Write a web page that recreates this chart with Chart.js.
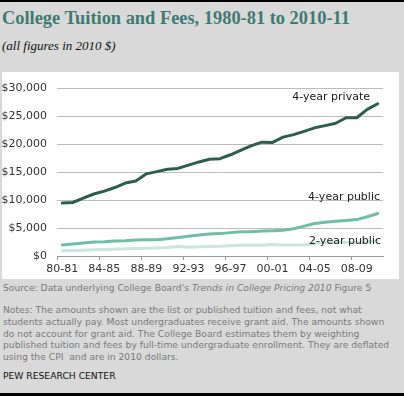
<!DOCTYPE html>
<html>
<head>
<meta charset="utf-8">
<script src="https://cdn.jsdelivr.net/npm/chart.js@4"></script>
<style>
  html, body { margin: 0; padding: 0; }
  body { width: 404px; height: 396px; background: #d9d9d9; position: relative; overflow: hidden; }
  #topline { position: absolute; left: 0; top: 0; width: 404px; height: 2px; background: #000; }
  #bottomline { position: absolute; left: 0; top: 393px; width: 404px; height: 3px; background: #000; }
  #title { position: absolute; left: 2px; top: 8px; font: bold 18.4px "Liberation Serif", serif; color: #3d7b73; white-space: nowrap; }
  #subtitle { position: absolute; left: 2px; top: 38px; font: italic 13px "Liberation Serif", serif; color: #111; white-space: nowrap; }
  #panel { position: absolute; left: 2px; top: 72px; width: 397px; height: 207px; background: #fff; }
  #chart { position: absolute; left: 0; top: 72px; }
  .note { position: absolute; left: 3px; font: 9.2px "DejaVu Sans", sans-serif; color: #7a7a7a; white-space: nowrap; line-height: 11.8px; }
  #source { top: 282px; }
  #notes { top: 304px; }
  #pew { top: 370px; color: #111; }
</style>
</head>
<body>
<div id="topline"></div>
<div id="title">College Tuition and Fees, 1980-81 to 2010-11</div>
<div id="subtitle">(all figures in 2010 $)</div>
<div id="panel"></div>
<canvas id="chart" width="404" height="207"></canvas>
<div class="note" id="source">Source: Data underlying College Board's <i>Trends in College Pricing 2010</i> Figure 5</div>
<div class="note" id="notes">Notes: The amounts shown are the list or published tuition and fees, not what<br>students actually pay. Most undergraduates receive grant aid. The amounts shown<br>do not account for grant aid. The College Board estimates them by weighting<br>published tuition and fees by full-time undergraduate enrollment. They are deflated<br>using the CPI&nbsp; and are in 2010 dollars.</div>
<div class="note" id="pew">PEW RESEARCH CENTER</div>
<div id="bottomline"></div>
<script>
// school years 1980-81 .. 2010-11
var years = ['80-81', '81-82', '82-83', '83-84', '84-85', '85-86', '86-87', '87-88',
  '88-89', '89-90', '90-91', '91-92', '92-93', '93-94', '94-95', '95-96', '96-97',
  '97-98', '98-99', '99-00', '00-01', '01-02', '02-03', '03-04', '04-05', '05-06',
  '06-07', '07-08', '08-09', '09-10', '10-11'];

// average published tuition and fees, 2010 dollars
var private4 = [9490, 9590, 10360, 11110, 11630, 12270, 13080, 13430, 14720, 15120,
  15560, 15700, 16280, 16860, 17330, 17440, 18140, 18960, 19770, 20400,
  20350, 21300, 21750, 22330, 22970, 23370, 23790, 24770, 24770, 26280, 27290];
var public4 = [1990, 2160, 2340, 2510, 2560, 2680, 2740, 2860, 2910, 2910,
  3100, 3320, 3550, 3780, 3960, 4010, 4190, 4360, 4360, 4480,
  4540, 4620, 4880, 5350, 5820, 6050, 6230, 6350, 6520, 7040, 7610];
var public2 = [950, 980, 1050, 1110, 1170, 1220, 1290, 1340, 1400, 1460,
  1520, 1720, 1560, 1640, 1690, 1740, 1820, 1920, 1990, 1940,
  2040, 1980, 1960, 1990, 2300, 2410, 2440, 2450, 2420, 2560, 2710];

var yTicks = [0, 5000, 10000, 15000, 20000, 25000, 30000];

// series name labels, placed at a value on the y scale
var seriesLabels = [
  { text: '4-year private', value: 28500, inset: 13 },
  { text: '4-year public', value: 10500, inset: 3 },
  { text: '2-year public', value: 2600, inset: 2 }
];

var labelPlugin = {
  id: 'seriesLabels',
  afterDatasetsDraw: function(chart) {
    var ctx = chart.ctx;
    var y = chart.scales.y;
    ctx.save();
    ctx.font = '11px "DejaVu Sans", sans-serif';
    ctx.fillStyle = '#222';
    ctx.textAlign = 'right';
    ctx.textBaseline = 'middle';
    seriesLabels.forEach(function(l) {
      ctx.fillText(l.text, chart.chartArea.right - l.inset, y.getPixelForValue(l.value));
    });
    ctx.restore();
  }
};

var tickFont = { family: 'DejaVu Sans', size: 11 };

var chart = new Chart(document.getElementById('chart'), {
  type: 'line',
  data: {
    labels: years,
    datasets: [
      { data: public2, borderColor: '#c9e7dd', borderWidth: 3 },
      { data: public4, borderColor: '#6fbea7', borderWidth: 3 },
      { data: private4, borderColor: '#2b5e4b', borderWidth: 3 }
    ]
  },
  options: {
    responsive: false,
    animation: false,
    layout: { padding: { top: 12, right: 21, left: 0, bottom: 0 } },
    elements: {
      point: { radius: 0 },
      line: { tension: 0, borderJoinStyle: 'round', borderCapStyle: 'round' }
    },
    plugins: { legend: { display: false }, tooltip: { enabled: false } },
    scales: {
      x: {
        offset: true,
        grid: {
          offset: true,
          drawOnChartArea: false,
          tickLength: 4,
          color: function(c) { return c.index % 4 === 0 ? '#999' : 'rgba(0,0,0,0)'; }
        },
        border: { color: '#999' },
        ticks: {
          autoSkip: false,
          maxRotation: 0,
          color: '#333',
          font: tickFont,
          callback: function(v, i) { return i % 4 === 0 ? years[i] : ''; }
        },
        afterFit: function(s) { s.height = 23; }
      },
      y: {
        min: 0,
        max: 30000,
        grid: { color: '#bdbdbd', drawTicks: false },
        border: { display: false },
        afterBuildTicks: function(s) { s.ticks = yTicks.map(function(v) { return { value: v }; }); },
        ticks: {
          padding: 10,
          color: '#333',
          font: tickFont,
          callback: function(v) { return '$' + v.toLocaleString('en-US'); }
        },
        afterFit: function(s) { s.width = 57; }
      }
    }
  },
  plugins: [labelPlugin]
});
</script>
</body>
</html>
